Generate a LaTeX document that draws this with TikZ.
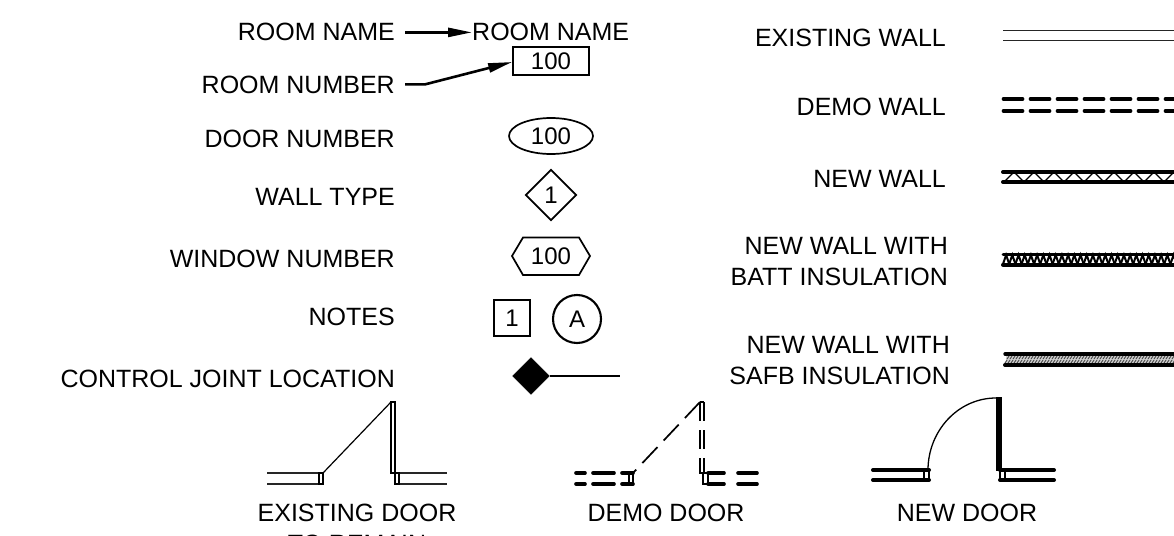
\documentclass[tikz,border=0pt]{standalone}
\usepackage{fontspec}
\setmainfont{Liberation Sans}
\usetikzlibrary{shapes.geometric,arrows.meta}
\tikzset{
 lbl/.style={inner sep=0pt,anchor=base east,font=\fontsize{25}{25}\selectfont},
 captext/.style={inner sep=0pt,anchor=base,font=\fontsize{25}{25}\selectfont},
 tag/.style={inner sep=0pt,font=\fontsize{24}{24}\selectfont,line width=1.7pt},
 leader/.style={line width=2.6pt,-{Triangle[length=24pt,width=9pt]}},
 thin wall/.style={line width=1.5pt,black!85},
 demo wall/.style={line width=3.7pt,line cap=round,dash pattern=on 19pt off 8pt},
 new wall/.style={line width=4pt,line cap=round},
 jamb/.style={line width=1.5pt},
}
\begin{document}
\begin{tikzpicture}[x=1pt,y=-1pt]
\useasboundingbox (0,0) rectangle (1174,535);
\clip (0,0) rectangle (1174,535);
% left labels
\node[lbl] (lname) at (395,41) {ROOM NAME};
\node[lbl] (lnum) at (395,93) {ROOM NUMBER};
\node[lbl] at (395,147) {DOOR NUMBER};
\node[lbl] at (395,205) {WALL TYPE};
\node[lbl] at (395,267) {WINDOW NUMBER};
\node[lbl] at (395,325) {NOTES};
\node[lbl] at (395,387) {CONTROL JOINT LOCATION};
% symbols
\node[captext,anchor=base west] (tname) at (472,41) {ROOM NAME};
\node[tag,draw,minimum width=76pt,minimum height=28pt] (tnum) at (551,61) {100};
\node[tag,draw,ellipse,minimum width=84pt,minimum height=36pt] (tdoor) at (551,136) {100};
\node[tag,draw,diamond,aspect=1,minimum width=51pt,minimum height=51pt] (twall) at (551,195) {1};
\node[tag] (twin) at (551,256) {100};
\draw[line width=1.7pt] (512,256)--(523,237.5)--(579,237.5)--(590,256)--(579,275)--(523,275)--cycle;
\node[tag,draw,line width=2.6pt,minimum width=36pt,minimum height=36pt] (tsq) at (512,318) {1};
\node[tag,draw,circle,line width=2.1pt,minimum size=48pt] (tcirc) at (577,319) {A};
\node[draw,fill=black,diamond,aspect=1,inner sep=0pt,minimum width=37pt,minimum height=37pt] (tcj) at (531,376) {};
\coordinate (cjend) at (620,376);
\draw[line width=1.8pt] (tcj.east) -- (cjend);
\draw[leader] ([xshift=10pt]lname.east |- tname.west) -- (tname.west);
\draw[leader] ([xshift=10pt]lnum.east) -- ++(20,0) -- ([yshift=-1pt]tnum.west);
% right labels
\node[lbl] at (946,46) {EXISTING WALL};
\node[lbl] at (946,115) {DEMO WALL};
\node[lbl] at (946,187) {NEW WALL};
\node[lbl] at (948,254) {NEW WALL WITH};
\node[lbl] at (948,285) {BATT INSULATION};
\node[lbl] at (950,353) {NEW WALL WITH};
\node[lbl] at (950,384) {SAFB INSULATION};
% existing wall
\draw[thin wall] (1003,30.7)--(1174,30.7) (1003,40.7)--(1174,40.7);
% demo wall
\draw[demo wall] (1003.5,99)--(1174,99);
\draw[demo wall] (1003.5,111)--(1174,111);
% new wall
\foreach \x in {0,...,8}{
 \draw[line width=1.2pt] ({1004+\x*20},182)--({1014+\x*20},172)--({1024+\x*20},182);
}
\draw[new wall] (1003,172)--(1174,172) (1003,182)--(1174,182);
% batt wall
\foreach \x in {0,...,27}{
 \draw[line width=2pt] ({1003+\x*6.2},264)--({1006.1+\x*6.2},255)--({1009.2+\x*6.2},264);
}
\draw[line width=3pt,line cap=round] (1003,254)--(1174,254);
\draw[line width=4pt,line cap=round] (1003,264.7)--(1174,264.7);
% safb wall
\fill[black!18] (1006,355) rectangle (1174,364);
\foreach \x in {0,...,56}{
 \draw[black!70,line width=1pt] ({1005+\x*3},363)--({1007+\x*3},360);
 \draw[black!70,line width=1pt] ({1007+\x*3},359)--({1009+\x*3},356);
}
\draw[line width=3.4pt,line cap=round] (1005,354)--(1174,354);
\draw[line width=4pt,line cap=round] (1005,365)--(1174,365);
% existing door
\draw[thin wall] (267,473)--(323,473) (267,484)--(323,484) (399,473)--(447,473) (399,484)--(447,484);
\draw[jamb] (319,473) rectangle (323,484) (395,473) rectangle (399,484);
\draw[jamb] (391,402) rectangle (395,473);
\draw[line width=1.2pt] (323,473)--(391,402);
\node[captext] (ed) at (357,521) {EXISTING DOOR};
\node[captext] (ed2) at (357,552) {TO REMAIN};
% demo door
\draw[line width=3.6pt,line cap=round] (576,473)--(585,473) (593,473)--(614,473) (622,473)--(633,473)
 (576,484)--(585,484) (593,484)--(614,484) (622,484)--(633,484)
 (708,473)--(724,473) (738,473)--(757,473) (708,484)--(724,484) (738,484)--(757,484);
\draw[line width=1.8pt] (629,473) rectangle (633,484) (703,473) rectangle (708,484);
\draw[line width=1.8pt,dash pattern=on 19pt off 9pt] (700,402)--(700,474);
\draw[line width=1.8pt,dash pattern=on 19pt off 9pt] (704,402)--(704,474);
\draw[line width=1.5pt] (700,402)--(704,402);
\draw[line width=1.5pt] (700,473)--(704,473);
\draw[line width=1.7pt,dash pattern=on 22pt off 9pt] (700,402)--(633,473);
\node[captext] (dd) at (666,521) {DEMO DOOR};
% new door
\draw[new wall] (873,470)--(929,470) (873,480)--(929,480) (1000,470)--(1054,470) (1000,480)--(1054,480);
\draw[line width=1.6pt] (924,470) rectangle (929,480);
\draw[line width=1.6pt] (1000,470) rectangle (1005,480);
\draw[line width=6pt] (999,397)--(999,471);
\draw[line width=1.3pt] (928,470) .. controls (928,431) and (958,398) .. (996,398);
\node[captext] (nd) at (967,521) {NEW DOOR};
\end{tikzpicture}
\end{document}
